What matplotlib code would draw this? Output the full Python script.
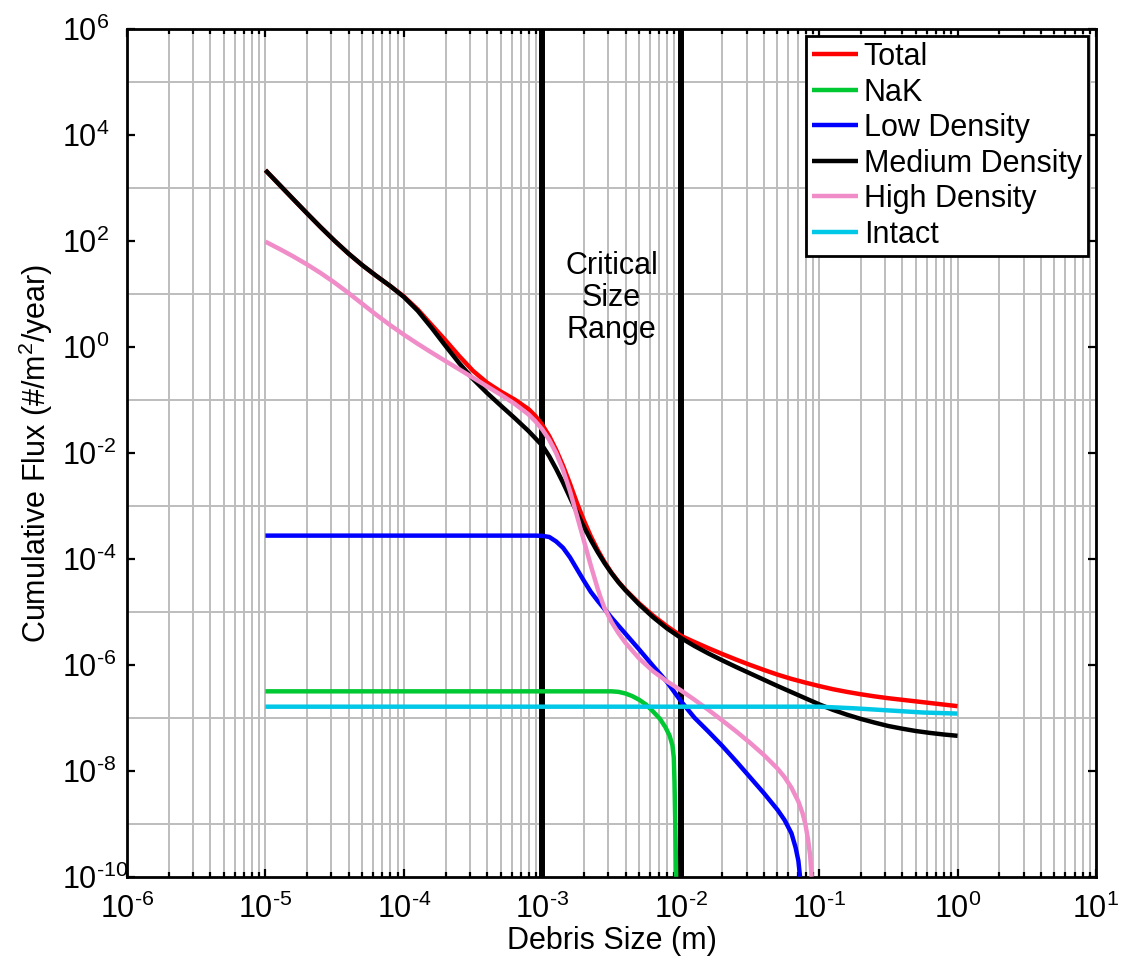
import numpy as np
import matplotlib
matplotlib.use("Agg")
import matplotlib.pyplot as plt
from matplotlib.ticker import FixedLocator, LogLocator, NullFormatter

plt.rcParams['font.family'] = ['Liberation Sans', 'DejaVu Sans']
plt.rcParams['mathtext.fontset'] = 'custom'
plt.rcParams['mathtext.rm'] = 'Liberation Sans'
plt.rcParams['mathtext.it'] = 'Liberation Sans:italic'
plt.rcParams['mathtext.bf'] = 'Liberation Sans:bold'
plt.rcParams['mathtext.default'] = 'regular'

# ---- data: log10 of debris size [m] and log10 of cumulative flux [#/m^2/year] ----
total_logx = [-5.0, -4.9, -4.8, -4.7, -4.6, -4.5, -4.4, -4.3, -4.2, -4.1, -4.0, -3.9,
              -3.8, -3.7, -3.6, -3.5, -3.4, -3.3, -3.2, -3.1, -3.05, -3.0, -2.95, -2.9,
              -2.85, -2.8, -2.75, -2.7, -2.65, -2.6, -2.55, -2.5, -2.45, -2.4, -2.3, -2.2,
              -2.1, -2.0, -1.9, -1.8, -1.7, -1.6, -1.5, -1.4, -1.3, -1.2, -1.1, -1.0,
              -0.9, -0.8, -0.7, -0.6, -0.5, -0.4, -0.3, -0.2, -0.1, 0.0]
total_logy = [3.34, 3.068, 2.796, 2.526, 2.261, 2.006, 1.766, 1.546, 1.346, 1.156, 0.956, 0.71,
              0.42, 0.13, -0.17, -0.45, -0.67, -0.84, -0.99, -1.17, -1.30, -1.47, -1.68, -1.94,
              -2.24, -2.58, -2.94, -3.27, -3.57, -3.83, -4.06, -4.26, -4.43, -4.58, -4.84, -5.07,
              -5.27, -5.45, -5.57, -5.685, -5.795, -5.90, -6.00, -6.095, -6.185, -6.265, -6.335, -6.40,
              -6.46, -6.51, -6.555, -6.595, -6.63, -6.66, -6.69, -6.72, -6.75, -6.78]

nak_logx = [-5.0, -2.50, -2.45, -2.40, -2.35, -2.30, -2.25, -2.20, -2.15, -2.11, -2.08,
            -2.06, -2.05, -2.045, -2.04, -2.036, -2.033]
nak_logy = [-6.50, -6.50, -6.51, -6.54, -6.59, -6.66, -6.75, -6.88, -7.02, -7.18, -7.34,
            -7.52, -7.75, -8.2, -8.9, -9.5, -10.0]

low_logx = [-5.0, -3.05, -3.0, -2.95, -2.90, -2.85, -2.80, -2.75, -2.70, -2.65, -2.60,
            -2.55, -2.50, -2.40, -2.30, -2.20, -2.10, -2.00, -1.90, -1.80, -1.70, -1.60,
            -1.50, -1.40, -1.30, -1.25, -1.20, -1.17, -1.15, -1.138]
low_logy = [-3.56, -3.56, -3.565, -3.585, -3.67, -3.79, -3.97, -4.19, -4.41, -4.62, -4.79,
            -4.95, -5.11, -5.41, -5.71, -6.02, -6.32, -6.68, -7.00, -7.26, -7.53, -7.82,
            -8.12, -8.42, -8.74, -8.93, -9.18, -9.45, -9.70, -10.0]

med_logx = [-5.0, -4.9, -4.8, -4.7, -4.6, -4.5, -4.4, -4.3, -4.2, -4.1, -4.0, -3.9,
            -3.8, -3.7, -3.6, -3.5, -3.4, -3.3, -3.2, -3.1, -3.0, -2.95, -2.9, -2.85,
            -2.8, -2.75, -2.7, -2.65, -2.6, -2.55, -2.5, -2.45, -2.4, -2.3, -2.2, -2.1,
            -2.0, -1.9, -1.8, -1.7, -1.6, -1.5, -1.4, -1.3, -1.2, -1.1, -1.0, -0.9,
            -0.8, -0.7, -0.6, -0.5, -0.4, -0.3, -0.2, -0.1, 0.0]
med_logy = [3.34, 3.068, 2.796, 2.526, 2.261, 2.006, 1.766, 1.546, 1.346, 1.156, 0.946, 0.686,
            0.366, 0.026, -0.304, -0.604, -0.864, -1.104, -1.339, -1.584, -1.859, -2.06, -2.30, -2.56,
            -2.84, -3.12, -3.39, -3.64, -3.87, -4.08, -4.27, -4.44, -4.59, -4.86, -5.10, -5.31,
            -5.49, -5.645, -5.785, -5.915, -6.04, -6.16, -6.28, -6.40, -6.515, -6.63, -6.745, -6.85,
            -6.94, -7.02, -7.09, -7.155, -7.205, -7.25, -7.285, -7.315, -7.34]

high_logx = [-5.0, -4.9, -4.8, -4.7, -4.6, -4.5, -4.4, -4.3, -4.2, -4.1, -4.0, -3.9,
             -3.8, -3.7, -3.6, -3.5, -3.4, -3.3, -3.2, -3.1, -3.05, -3.0, -2.95, -2.9,
             -2.85, -2.8, -2.75, -2.7, -2.65, -2.6, -2.58, -2.55, -2.5, -2.45, -2.4, -2.3,
             -2.2, -2.1, -2.0, -1.9, -1.8, -1.7, -1.6, -1.5, -1.4, -1.3, -1.25, -1.2,
             -1.15, -1.12, -1.10, -1.08, -1.065, -1.054]
high_logy = [1.99, 1.855, 1.713, 1.561, 1.396, 1.216, 1.021, 0.816, 0.611, 0.416, 0.234, 0.062,
             -0.103, -0.263, -0.42, -0.58, -0.74, -0.90, -1.07, -1.27, -1.40, -1.555, -1.75, -2.00,
             -2.32, -2.72, -3.18, -3.65, -4.12, -4.56, -4.72, -4.93, -5.19, -5.40, -5.58, -5.88,
             -6.12, -6.31, -6.48, -6.66, -6.85, -7.05, -7.255, -7.47, -7.70, -7.96, -8.12, -8.32,
             -8.58, -8.80, -9.00, -9.30, -9.60, -10.0]

intact_logx = [-5.0, -1.0, -0.75, -0.50, -0.25, 0.0]
intact_logy = [-6.79, -6.79, -6.82, -6.86, -6.90, -6.92]

series_names = ['Total', 'NaK', 'Low Density', 'Medium Density', 'High Density', 'Intact']
series_colors = ['#ff0000', '#00c832', '#0000ff', '#000000', '#f08cc8', '#00c8e6']
series_data = [(total_logx, total_logy), (nak_logx, nak_logy), (low_logx, low_logy),
               (med_logx, med_logy), (high_logx, high_logy), (intact_logx, intact_logy)]

critical_bounds = [1e-3, 1e-2]
x_major_exp = [-6, -5, -4, -3, -2, -1, 0, 1]
y_major_exp = [-10, -8, -6, -4, -2, 0, 2, 4, 6]
y_minor_exp = [-9, -7, -5, -3, -1, 1, 3, 5]


def exp_label(e):
    s = str(e).replace('-', '\u2010')
    return '$10^{%s}$' % s


# ---- figure ----
fig = plt.figure(figsize=(11.31, 9.56), dpi=100)
ax = fig.add_axes([0.11229, 0.08295, 0.85676, 0.88640])
ax.set_xscale('log')
ax.set_yscale('log')
ax.set_xlim(1e-6, 1e1)
ax.set_ylim(1e-10, 1e6)

grid_kw = dict(color='#bdbdbd', linewidth=1.4, linestyle='-')
ax.xaxis.set_major_locator(FixedLocator([10.0 ** e for e in x_major_exp]))
ax.xaxis.set_minor_locator(LogLocator(base=10, subs=np.arange(2, 10), numticks=100))
ax.xaxis.set_minor_formatter(NullFormatter())
ax.yaxis.set_major_locator(FixedLocator([10.0 ** e for e in y_major_exp]))
ax.yaxis.set_minor_locator(FixedLocator([10.0 ** e for e in y_minor_exp]))
ax.yaxis.set_minor_formatter(NullFormatter())
ax.set_xticklabels([exp_label(e) for e in x_major_exp])
ax.set_yticklabels([exp_label(e) for e in y_major_exp])
ax.grid(True, which='both', axis='x', **grid_kw)
ax.grid(True, which='minor', axis='y', **grid_kw)
ax.grid(False, which='major', axis='y')
ax.set_axisbelow(True)

for s in ax.spines.values():
    s.set_linewidth(2.0)

ax.tick_params(which='both', direction='in', top=True, right=True, width=1.6)
ax.tick_params(which='major', length=6)
ax.tick_params(axis='x', which='minor', length=3.5)
ax.tick_params(axis='y', which='minor', length=0)
ax.tick_params(axis='x', which='major', labelsize=22, pad=12)
ax.tick_params(axis='y', which='major', labelsize=22, pad=47)

for xv in critical_bounds:
    ax.axvline(xv, color='black', linewidth=4.3, zorder=2)

for name, color, (lx, ly) in zip(series_names, series_colors, series_data):
    ax.plot(10.0 ** np.array(lx), 10.0 ** np.array(ly), color=color, linewidth=3.2,
            label=name, zorder=3, solid_joinstyle='round', solid_capstyle='butt')

ax.text(10 ** -2.5, 10 ** 0.93, 'Critical\nSize\nRange', ha='center', va='center',
        fontsize=22, linespacing=1.1, zorder=4)

ax.set_xlabel('Debris Size (m)', fontsize=22)
ax.set_ylabel('Cumulative Flux (#/m$^2$/year)', fontsize=22)
ax.xaxis.label.set_va('center')
ax.yaxis.label.set_va('center')
ax.xaxis.set_label_coords(0.5, -0.0755)
ax.yaxis.set_label_coords(-0.094, 0.5)

leg = ax.legend(loc='upper right', bbox_to_anchor=(0.9917, 0.9921), borderaxespad=0,
                fontsize=22, frameon=True, fancybox=False, framealpha=1,
                edgecolor='black', handlelength=1.5, handletextpad=0.18,
                labelspacing=0.18, borderpad=0.2)
leg.get_frame().set_linewidth(2.0)
leg.set_zorder(10)

for lbl in ax.get_yticklabels():
    lbl.set_horizontalalignment('left')

fig.savefig('out.png', dpi=100)
